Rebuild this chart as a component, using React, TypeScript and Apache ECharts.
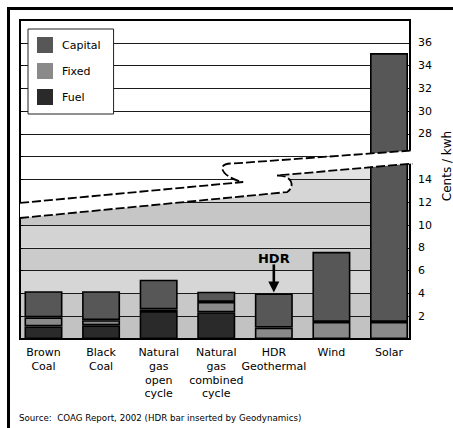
import React, { useEffect, useRef } from 'react';
import * as echarts from 'echarts';

// ---- data ----
const categories = ['Brown\nCoal', 'Black\nCoal', 'Natural\ngas\nopen\ncycle', 'Natural\ngas\ncombined\ncycle', 'HDR\nGeothermal', 'Wind', 'Solar'];
const fuel = [1.1, 1.2, 2.45, 2.35, 0, 0, 0];
const fixed = [0.8, 0.45, 0.15, 0.9, 1.0, 1.5, 1.5];
const capital = [2.3, 2.55, 2.6, 0.9, 3.0, 6.15, 33.6];
const tickLabels = [2, 4, 6, 8, 10, 12, 14, 28, 30, 32, 34, 36];
const seriesNames = ['Capital', 'Fixed', 'Fuel'];
const annotationLabel = 'HDR';
const annotationIndex = 4;
const axisTitle = 'Cents / kwh';
const sourceNote = 'Source:  COAG Report, 2002 (HDR bar inserted by Geodynamics)';

// axis break: values from BREAK_LOW to BREAK_HIGH are cut out
const BREAK_LOW = 16;
const BREAK_HIGH = 26;
const toAxis = (v: number) => (v >= BREAK_HIGH ? v - (BREAK_HIGH - BREAK_LOW) : v);
const fromAxis = (a: number) => (a > BREAK_LOW ? a + (BREAK_HIGH - BREAK_LOW) : a);

// ---- styles ----
const FONT = 'DejaVu Sans, Liberation Sans, Arial, sans-serif';
const COLORS = { Capital: '#575757', Fixed: '#8a8a8a', Fuel: '#2a2a2a' } as Record<string, string>;
const bandColors = ['#c2c2c2', '#c8c8c8', '#d6d6d6', '#cbcbcb', '#d3d3d3', '#c6c6c6', '#d6d6d6', '#e2e2e2'];
// break shape: [fraction of plot width, axis value]
const UPPER = { start: [0, 11.94], tip: [0.572, 13.78], c1: [0.515, 14.2], c2: [0.5, 15.5], resume: [0.546, 15.4], end: [1.006, 16.55] };
const LOWER = { start: [0, 10.62], tip: [0.685, 12.9], c1: [0.705, 13.3], c2: [0.7, 14.4], resume: [0.659, 14.35], end: [1.006, 15.4] };

export default function App() {
  const ref = useRef<HTMLDivElement>(null);
  useEffect(() => {
    const chart = echarts.init(ref.current!, null, { renderer: 'svg' });

    const base = fuel.map((f, i) => f + fixed[i]);
    const total = base.map((b, i) => b + capital[i]);
    const fuelD = fuel.map((v) => (v > 0 ? toAxis(v) : '-'));
    const fixedD = fixed.map((v, i) => (v > 0 ? toAxis(base[i]) - toAxis(fuel[i]) : '-'));
    const capD = capital.map((v, i) => (v > 0 ? toAxis(total[i]) - toAxis(base[i]) : '-'));

    const barBase = (name: string, data: any[]) => ({
      name,
      type: 'bar',
      stack: 'total',
      xAxisIndex: 1,
      yAxisIndex: 1,
      barWidth: 38,
      data,
      z: 3,
      itemStyle: { color: COLORS[name], borderColor: '#000', borderWidth: 1.6 },
    });

    const makeHelpers = (params: any, api: any) => {
      const cs = params.coordSys;
      const px = (f: number) => cs.x + f * cs.width;
      const py = (v: number) => api.coord([0, v])[1];
      const P = (pt: number[]) => `${px(pt[0]).toFixed(2)} ${py(pt[1]).toFixed(2)}`;
      return { cs, px, py, P };
    };

    const option: any = {
      animation: false,
      grid: [
        { left: 20, right: 43, top: 20, bottom: 89 },
        { left: 14.7, right: 35.2, top: 20, bottom: 89 },
      ],
      xAxis: [
        { type: 'value', gridIndex: 0, min: 0, max: 1, show: false },
        {
          type: 'category',
          gridIndex: 1,
          data: categories,
          axisLine: { show: false },
          axisTick: { show: false },
          axisLabel: { interval: 0, color: '#000', fontSize: 11, lineHeight: 13.7, margin: 7, fontFamily: FONT },
        },
      ],
      yAxis: [
        {
          type: 'value',
          gridIndex: 0,
          position: 'right',
          min: 0,
          max: 28,
          interval: 2,
          z: 1,
          axisLine: { show: false },
          axisTick: { show: true, length: 3, lineStyle: { color: '#000' } },
          splitLine: { show: true, lineStyle: { color: '#1a1a1a', width: 1 } },
          axisLabel: {
            margin: 8,
            color: '#000',
            fontSize: 11,
            fontFamily: FONT,
            formatter: (a: number) => {
              const v = fromAxis(a);
              return a === BREAK_LOW || tickLabels.indexOf(v) < 0 ? '' : String(v);
            },
          },
        },
        { type: 'value', gridIndex: 1, min: 0, max: 28, show: false },
      ],
      legend: {
        data: seriesNames,
        orient: 'vertical',
        left: 28,
        top: 29,
        padding: [8, 13, 9, 9],
        itemWidth: 16,
        itemHeight: 16,
        itemGap: 10,
        icon: 'rect',
        backgroundColor: '#fff',
        borderColor: '#222',
        borderWidth: 1,
        borderRadius: 0,
        z: 8,
        textStyle: { color: '#000', fontSize: 11, fontFamily: FONT, padding: [0, 0, 0, 4] },
        itemStyle: { borderWidth: 0 },
      },
      series: [
        {
          type: 'custom',
          xAxisIndex: 0,
          yAxisIndex: 0,
          z: -1,
          silent: true,
          data: [[0, 0]],
          renderItem: (params: any, api: any) => {
            const { cs, px, py, P } = makeHelpers(params, api);
            const children: any[] = [];
            bandColors.forEach((c, k) => {
              const yTop = py(2 * k + 2);
              const yBot = py(2 * k);
              children.push({ type: 'rect', shape: { x: cs.x, y: yTop, width: cs.width, height: yBot - yTop }, style: { fill: c, stroke: null } });
            });
            const whiteD =
              `M${px(0)} ${py(BREAK_LOW)} L${px(1)} ${py(BREAK_LOW)} L${P([1, LOWER.end[1]])} L${P(LOWER.resume)} ` +
              `C${P(LOWER.c2)} ${P(LOWER.c1)} ${P(LOWER.tip)} L${P(LOWER.start)} Z`;
            children.push({ type: 'path', shape: { pathData: whiteD }, style: { fill: '#fff', stroke: null } });
            return { type: 'group', children };
          },
        },
        {
          type: 'custom',
          xAxisIndex: 0,
          yAxisIndex: 0,
          z: 2,
          silent: true,
          data: [[0, 0]],
          renderItem: (params: any) => {
            const cs = params.coordSys;
            return { type: 'rect', shape: { x: cs.x, y: cs.y, width: cs.width, height: cs.height }, style: { fill: 'none', stroke: '#000', lineWidth: 2 } };
          },
        },
        barBase('Fuel', fuelD),
        barBase('Fixed', fixedD),
        barBase('Capital', capD),
        {
          type: 'custom',
          xAxisIndex: 1,
          yAxisIndex: 1,
          z: 6,
          silent: true,
          data: [[annotationIndex, toAxis(total[annotationIndex])]],
          renderItem: (params: any, api: any) => {
            const [cx, cy] = api.coord([api.value(0), api.value(1)]);
            return {
              type: 'group',
              children: [
                { type: 'text', x: cx, y: cy - 35, style: { text: annotationLabel, fill: '#000', fontSize: 13, fontWeight: 'bold', fontFamily: FONT, align: 'center', verticalAlign: 'middle' } },
                { type: 'rect', shape: { x: cx - 1.3, y: cy - 29, width: 2.6, height: 18 }, style: { fill: '#000' } },
                { type: 'polygon', shape: { points: [[cx - 5.5, cy - 12], [cx + 5.5, cy - 12], [cx, cy - 1]] }, style: { fill: '#000' } },
              ],
            };
          },
        },
        {
          type: 'custom',
          xAxisIndex: 0,
          yAxisIndex: 0,
          z: 10,
          silent: true,
          data: [[0, 0]],
          renderItem: (params: any, api: any) => {
            const { P } = makeHelpers(params, api);
            const upperD = `M${P(UPPER.start)} L${P(UPPER.tip)} C${P(UPPER.c1)} ${P(UPPER.c2)} ${P(UPPER.resume)} L${P(UPPER.end)}`;
            const lowerD = `M${P(LOWER.start)} L${P(LOWER.tip)} C${P(LOWER.c1)} ${P(LOWER.c2)} ${P(LOWER.resume)} L${P(LOWER.end)}`;
            const fillD = `${upperD} L${P(LOWER.end)} L${P(LOWER.resume)} C${P(LOWER.c2)} ${P(LOWER.c1)} ${P(LOWER.tip)} L${P(LOWER.start)} Z`;
            return {
              type: 'group',
              children: [
                { type: 'path', shape: { pathData: fillD }, style: { fill: '#fff', stroke: null } },
                { type: 'path', shape: { pathData: upperD }, style: { fill: null, stroke: '#000', lineWidth: 1.8, lineDash: [9, 3] } },
                { type: 'path', shape: { pathData: lowerD }, style: { fill: null, stroke: '#000', lineWidth: 1.8, lineDash: [9, 3] } },
              ],
            };
          },
        },
      ],
      graphic: [
        { type: 'rect', silent: true, z: 100, shape: { x: 8.5, y: 8.5, width: 470, height: 450 }, style: { fill: null, stroke: '#000', lineWidth: 3 } },
        { type: 'text', x: 19, y: 418, style: { text: sourceNote, fontSize: 8.7, fontFamily: FONT, fill: '#000', verticalAlign: 'middle' } },
        { type: 'text', x: 447, y: 166, rotation: Math.PI / 2, style: { text: axisTitle, fontSize: 12, fontFamily: FONT, fill: '#000', align: 'center', verticalAlign: 'middle' } },
      ],
    };

    chart.setOption(option);
    return () => chart.dispose();
  }, []);
  return <div ref={ref} style={{ position: 'fixed', left: 0, top: 0, width: 453, height: 428, background: '#fff' }} />;
}
